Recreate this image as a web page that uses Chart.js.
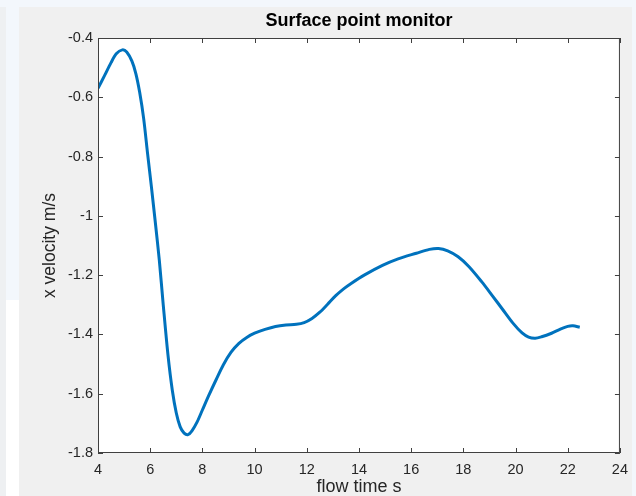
<!DOCTYPE html>
<html>
<head>
<meta charset="utf-8">
<script src="https://cdn.jsdelivr.net/npm/chart.js@4.4.1/dist/chart.umd.min.js"></script>
<style>
  body { margin: 0; background: #f3f7fc; width: 636px; height: 496px; overflow: hidden; position: relative; }
  #edge { position: absolute; left: 0; top: 7px; width: 6px; height: 489px; background: #eef0f2; }
  #white { position: absolute; left: 6px; top: 300px; width: 13px; height: 196px; background: #ffffff; }
  #panel { position: absolute; left: 19px; top: 7px; width: 613px; height: 489px; background: #f0f0f0; }
  #myChart { position: absolute; left: 0; top: 0; }
</style>
</head>
<body>
<div id="edge"></div>
<div id="white"></div>
<div id="panel"></div>
<canvas id="myChart" width="636" height="496"></canvas>
<script>
// flow time (s) and x velocity (m/s)
const flowTime = [4.0, 4.25, 4.5, 4.7, 4.93, 5.1, 5.3, 5.45, 5.6, 5.75, 5.9, 6.05, 6.2, 6.35, 6.5, 6.68, 6.85, 7.0, 7.15, 7.3, 7.45, 7.6, 7.8, 8.0, 8.25, 8.53, 8.8, 9.1, 9.4, 9.7, 10.0, 10.4, 10.8, 11.2, 11.6, 11.9, 12.2, 12.5, 12.8, 13.1, 13.4, 13.7, 14.2, 14.9, 15.5, 16.2, 16.7, 17.05, 17.4, 17.8, 18.2, 18.7, 19.1, 19.5, 19.9, 20.25, 20.5, 20.75, 21.0, 21.38, 21.7, 22.0, 22.2, 22.46];
const xVelocity = [-0.570, -0.527, -0.483, -0.453, -0.440, -0.447, -0.478, -0.520, -0.585, -0.672, -0.790, -0.905, -1.025, -1.150, -1.300, -1.468, -1.590, -1.665, -1.712, -1.733, -1.738, -1.725, -1.695, -1.655, -1.605, -1.552, -1.503, -1.460, -1.430, -1.410, -1.396, -1.383, -1.373, -1.368, -1.366, -1.360, -1.346, -1.325, -1.298, -1.270, -1.247, -1.228, -1.200, -1.167, -1.145, -1.126, -1.113, -1.110, -1.118, -1.138, -1.170, -1.222, -1.268, -1.315, -1.362, -1.395, -1.409, -1.413, -1.408, -1.396, -1.383, -1.373, -1.371, -1.376];
const xTicks = [4, 6, 8, 10, 12, 14, 16, 18, 20, 22, 24];
const yTicks = [-1.8, -1.6, -1.4, -1.2, -1, -0.8, -0.6, -0.4];

const axisColor = "#404040";
const fontFamily = "'Liberation Sans', Arial, sans-serif";

// white plot background, box and inward ticks on all four sides (MATLAB style)
const matlabBox = {
  id: "matlabBox",
  beforeDraw(chart) {
    const a = chart.chartArea;
    const ctx = chart.ctx;
    ctx.save();
    ctx.fillStyle = "#ffffff";
    ctx.fillRect(a.left, a.top, a.right - a.left, a.bottom - a.top);
    ctx.restore();
  },
  afterDraw(chart) {
    const a = chart.chartArea;
    const ctx = chart.ctx;
    const xs = chart.scales.x;
    const ys = chart.scales.y;
    ctx.save();
    ctx.strokeStyle = axisColor;
    ctx.lineWidth = 1;
    ctx.strokeRect(a.left + 0.5, a.top + 0.5, a.right - a.left - 1, a.bottom - a.top - 1);
    ctx.beginPath();
    xTicks.forEach(v => {
      const px = Math.round(xs.getPixelForValue(v)) + 0.5;
      ctx.moveTo(px, a.bottom);
      ctx.lineTo(px, a.bottom - 5);
      ctx.moveTo(px, a.top);
      ctx.lineTo(px, a.top + 5);
    });
    yTicks.forEach(v => {
      const py = Math.round(ys.getPixelForValue(v)) + 0.5;
      ctx.moveTo(a.left, py);
      ctx.lineTo(a.left + 5, py);
      ctx.moveTo(a.right, py);
      ctx.lineTo(a.right - 5, py);
    });
    ctx.stroke();
    ctx.restore();
  }
};

const data = {
  datasets: [
    {
      label: "x velocity",
      data: flowTime.map((t, i) => ({ x: t, y: xVelocity[i] })),
      borderColor: "#0072BD",
      borderWidth: 3,
      pointRadius: 0,
      tension: 0.3,
      fill: false,
    },
  ],
};

const config = {
  type: "line",
  data: data,
  plugins: [matlabBox],
  options: {
    responsive: false,
    animation: false,
    layout: { padding: { left: 0, top: 0, right: 14, bottom: 0 } },
    plugins: {
      legend: { display: false },
      tooltip: { enabled: false },
      title: {
        display: true,
        text: "Surface point monitor",
        fullSize: false,
        color: "#000000",
        font: { family: fontFamily, size: 18, weight: "bold", lineHeight: 1.2 },
        padding: { top: 10, bottom: 6.4 },
      },
    },
    scales: {
      x: {
        type: "linear",
        min: 4,
        max: 24,
        afterBuildTicks(scale) { scale.ticks = xTicks.map(v => ({ value: v })); },
        afterFit(scale) { scale.height = 43; },
        grid: { display: false, drawTicks: false },
        border: { display: false },
        ticks: {
          color: "#262626",
          padding: 8,
          maxRotation: 0,
          font: { family: fontFamily, size: 14.5 },
          callback: v => String(v),
        },
        title: {
          display: true,
          text: "flow time s",
          color: "#262626",
          font: { family: fontFamily, size: 18, lineHeight: 1 },
          padding: { top: 0, bottom: 0 },
        },
      },
      y: {
        min: -1.8,
        max: -0.4,
        afterBuildTicks(scale) { scale.ticks = yTicks.map(v => ({ value: v })); },
        afterFit(scale) { scale.width = 98; },
        grid: { display: false, drawTicks: false },
        border: { display: false },
        ticks: {
          color: "#262626",
          padding: 5,
          font: { family: fontFamily, size: 14.5 },
          callback: v => String(Math.round(v * 10) / 10),
        },
        title: {
          display: true,
          text: "x velocity m/s",
          color: "#262626",
          font: { family: fontFamily, size: 17.5, lineHeight: 1 },
          padding: { top: 41, bottom: 0 },
        },
      },
    },
  },
};

// Create the chart
let myChart = new Chart(document.getElementById("myChart").getContext("2d"), config);
</script>
</body>
</html>
